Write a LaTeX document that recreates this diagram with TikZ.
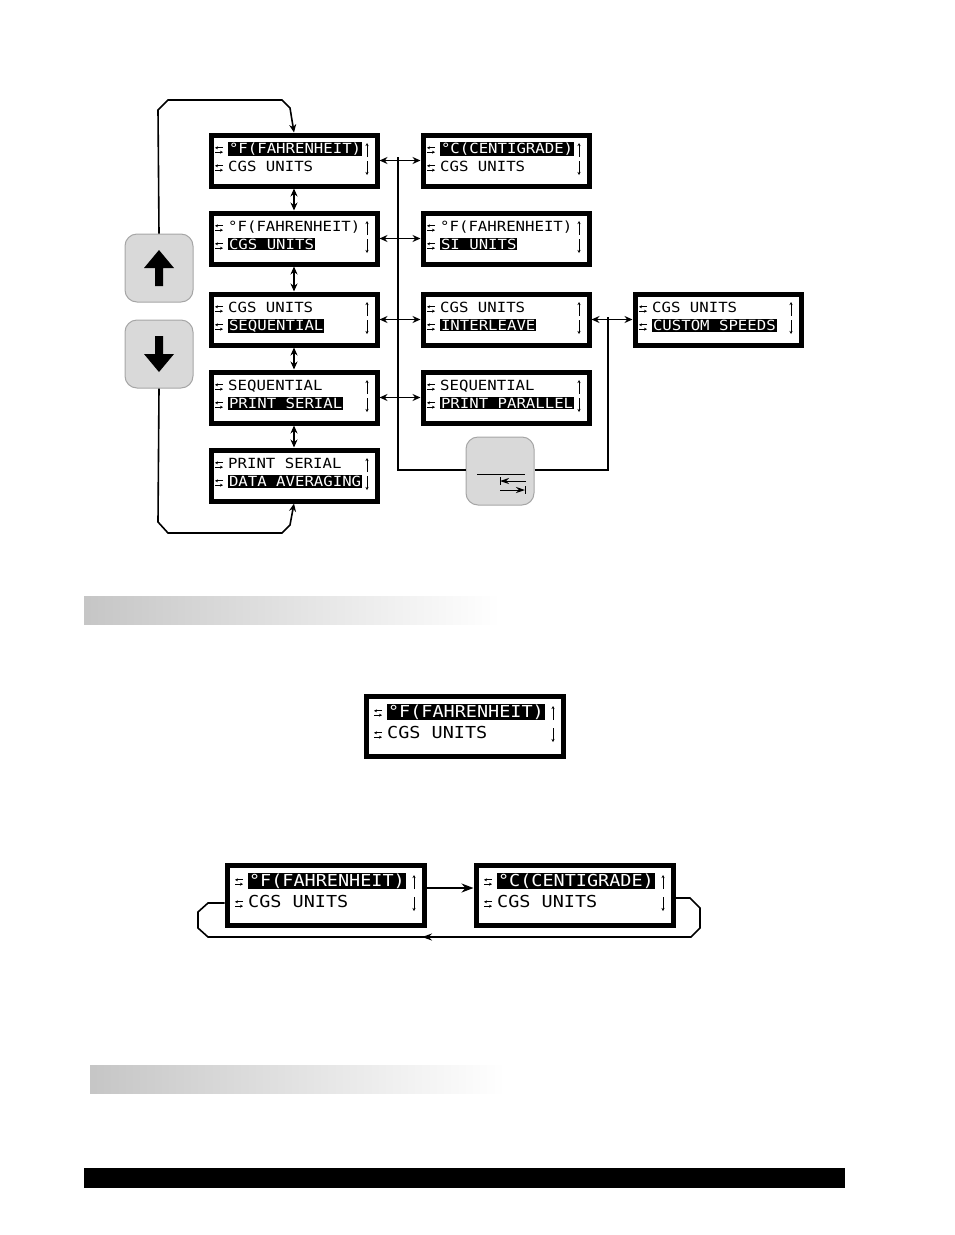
\documentclass[tikz,border=0pt]{standalone}
\usepackage{fontspec}
\usetikzlibrary{arrows.meta,positioning}
\newfontfamily\lcdfont[FakeStretch=1.12]{DejaVu Sans Mono}

\tikzset{
  lcdframe/.style={draw=black,line width=5pt,fill=white,inner sep=0pt},
  lcdtext/.style={inner sep=0pt,anchor=west,font=\lcdfont\fontsize{\lfs}{\lfs}\selectfont},
  tiny/.style={line width=.7pt,-{Stealth[length=3pt,width=3pt]}},
  link/.style={line width=1.6pt},
  dlink/.style={line width=1.6pt,{Stealth[length=8pt,width=7pt]}-{Stealth[length=8pt,width=7pt]}},
  key/.style={draw=gray!70,line width=1pt,fill=gray!30,rounded corners=12pt,minimum width=68pt,minimum height=68pt,inner sep=0pt}
}
\setlength{\fboxsep}{0.8pt}
\newcommand\hl[1]{\colorbox{black}{\textcolor{white}{#1}}}
% box size and offsets
\def\lw{171}\def\lh{56}\def\lfs{14}\def\ltx{22}\def\lya{20}\def\lyb{38}
% name, x, y (top left), line 1, line 2
\newcommand\lcd[5]{%
  \node[lcdframe,anchor=north west,minimum width=\lw pt-5pt,minimum height=\lh pt-5pt] (#1) at (#2+2.5,#3+2.5) {};
  \node[lcdtext] at (#2+\ltx,#3+\lya) {\strut #4};
  \node[lcdtext] at (#2+\ltx,#3+\lyb) {\strut #5};
  \foreach \yy in {\lya,\lyb} {
    \draw[tiny] (#2+\ltx-5,#3+\yy-2.2) -- (#2+\ltx-13,#3+\yy-2.2);
    \draw[tiny] (#2+\ltx-13,#3+\yy+2.2) -- (#2+\ltx-5,#3+\yy+2.2);
  }
  \draw[tiny] (#2+\lw-10,#3+\lya+7) -- (#2+\lw-10,#3+\lya-7);
  \draw[tiny] (#2+\lw-10,#3+\lyb-7) -- (#2+\lw-10,#3+\lyb+7);
}

\begin{document}
\begin{tikzpicture}[x=1pt,y=-1pt]
\useasboundingbox (0,0) rectangle (954,1235);

%menu screens, left column
\lcd{lf}{206}{130}{\hl{°F(FAHRENHEIT)}}{CGS UNITS}
\lcd{lc}{206}{208}{°F(FAHRENHEIT)}{\hl{CGS UNITS}}
\lcd{ls}{206}{289}{CGS UNITS}{\hl{SEQUENTIAL}}
\lcd{lp}{206}{367}{SEQUENTIAL}{\hl{PRINT SERIAL}}
\lcd{ld}{206}{445}{PRINT SERIAL}{\hl{DATA AVERAGING}}

%second choices
\lcd{mc}{418}{130}{\hl{°C(CENTIGRADE)}}{CGS UNITS}
\lcd{msi}{418}{208}{°F(FAHRENHEIT)}{\hl{SI UNITS}}
\lcd{mil}{418}{289}{CGS UNITS}{\hl{INTERLEAVE}}
\lcd{mpp}{418}{367}{SEQUENTIAL}{\hl{PRINT PARALLEL}}
\lcd{rcs}{630}{289}{CGS UNITS}{\hl{CUSTOM SPEEDS}}

%keys
\node[key] (upkey) at (159,268) {};
\node[key] (downkey) at (159,354) {};
\node[key] (tabkey) at (500,471) {};
\fill (159,250) -- (174,268) -- (163,268) -- (163,286) -- (155,286) -- (155,268) -- (144,268) -- cycle;
\fill (159,372) -- (174,354) -- (163,354) -- (163,336) -- (155,336) -- (155,354) -- (144,354) -- cycle;
\draw[line width=.8pt] (477,474) -- (525,474);
\draw[line width=1pt] (500,477) -- (500,485);
\draw[line width=1pt,-{Stealth[length=9pt,width=6pt]}] (526,481) -- (500,481);
\draw[line width=1pt] (525,486) -- (525,494);
\draw[line width=1pt,-{Stealth[length=9pt,width=6pt]}] (500,490) -- (525,490);

%loop round the left column
\draw[link,-{Stealth[length=8pt,width=7pt]}] (upkey.north) -- (158,110) -- (168,100) -- (282,100) -- (290,108) -- (lf.north);
\draw[link,-{Stealth[length=8pt,width=7pt]}] (downkey.south) -- (158,522) -- (168,533) -- (282,533) -- (290,525) -- (ld.south);
\draw[dlink] (lf.south) -- (lc.north);
\draw[dlink] (lc.south) -- (ls.north);
\draw[dlink] (ls.south) -- (lp.north);
\draw[dlink] (lp.south) -- (ld.north);

%sideways links
\draw[dlink] (lf.east) -- (mc.west);
\draw[dlink] (lc.east) -- (msi.west);
\draw[dlink] (ls.east) -- (mil.west);
\draw[dlink] (lp.east) -- (mpp.west);
\draw[dlink] (mil.east) -- (rcs.west);
\draw[link] (398,157) -- (398,470) -- (tabkey.west |- 0,470);
\draw[link] (tabkey.east |- 0,470) -- (608,470) -- (608,317);

%headline bars
\shade[left color=gray!45,right color=white] (84,596) rectangle (500,624);
\shade[left color=gray!45,right color=white] (90,1065) rectangle (505,1093);
\fill (84,1168) rectangle (845,1188);

%bigger screens
\def\lw{202}\def\lh{65}\def\lfs{16.5}\def\ltx{26}\def\lya{22}\def\lyb{44}
\lcd{bf}{361}{691}{\hl{°F(FAHRENHEIT)}}{CGS UNITS}
\lcd{cf}{222}{860}{\hl{°F(FAHRENHEIT)}}{CGS UNITS}
\lcd{cc}{471}{860}{\hl{°C(CENTIGRADE)}}{CGS UNITS}
\draw[link,-{Stealth[length=12pt,width=9pt]}] (cf.east |- 0,888) -- (cc.west |- 0,888);
\draw[link,-{Stealth[length=10pt,width=7pt]}] (cc.east |- 0,898) -- (690,898) -- (700,908) -- (700,928) -- (691,937) -- (422,937);
\draw[link] (424,937) -- (208,937) -- (198,928) -- (198,912) -- (208,903) -- (cf.west |- 0,903);
\end{tikzpicture}
\end{document}
